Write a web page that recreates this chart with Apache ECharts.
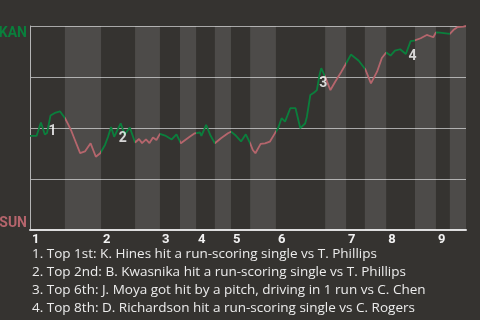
<!DOCTYPE html>
<html>
<head>
<meta charset="utf-8">
<script src="https://cdn.jsdelivr.net/npm/echarts@6/dist/echarts.min.js"></script>
<style>
html,body{margin:0;padding:0;background:#353330;}
#chart{width:480px;height:320px;}
</style>
</head>
<body>
<div id="chart"></div>
<script>
// Half-inning boundaries in play-index units (top, bottom alternating)
const halfInningBounds = [0, 8.0, 16.3, 24.1, 29.8, 34.4, 38.1, 42.4, 46.1, 50.5, 56.4, 67.7, 72.5, 76.8, 81.7, 88.3, 93.1, 96.3, 100];
const inningLabels = ['1','2','3','4','5','6','7','8','9'];
const teamLabels = { top: 'KAN', bottom: 'SUN' };

// Play index and KAN win probability (%)
const playIndex = [0,1.5,2.5,3.4,3.9,4.7,5.7,6.9,7.1,8.0,8.7,9.4,10.3,11.5,12.6,13.9,15.1,16.1,17.2,17.9,18.6,19.3,20.8,21.7,22.9,24.1,25.0,25.7,26.6,27.4,28.2,29.0,29.8,31.0,32.5,33.6,34.6,35.6,36.7,37.8,39.0,39.3,40.4,41.4,42.4,43.8,45.4,46.1,47.2,48.4,49.5,50.5,51.1,51.7,52.9,53.9,55.0,56.2,56.9,57.7,58.5,59.7,60.9,62.0,63.1,63.5,64.3,65.1,65.8,66.4,66.8,67.7,68.9,70.0,71.2,72.3,73.6,75.4,76.9,78.2,79.6,80.7,81.7,82.7,83.7,84.9,85.3,86.2,87.3,88.1,89.6,91.0,91.7,92.5,93.1,94.0,96.3,97.1,98.0,99.4,100];
const winProb   = [46.1,46.1,52.7,46.8,47.5,56.1,57.4,58.1,58.8,54.9,52.0,49.0,44.1,37.7,38.5,42.5,35.9,37.6,41.7,45.7,50.5,45.7,52.3,46.8,50.2,42.9,44.6,42.6,44.4,42.6,45.3,44.1,47.1,46.3,44.4,46.9,42.5,44.1,45.8,47.4,47.8,46.1,51.5,46.3,42.5,45.0,47.4,48.2,46.3,43.4,46.9,42.5,39.2,37.6,42.2,42.5,43.3,47.5,49.9,54.8,53.1,59.7,59.7,49.9,52.2,55.4,66.2,67.3,68.6,76.0,79.3,75.1,68.6,72.7,76.8,80.9,86.0,83.0,78.8,71.9,77.6,84.3,87.0,85.5,87.9,88.6,89.1,86.3,92.6,92.8,94.0,95.6,95.1,94.5,96.9,96.8,96.1,98.0,99.4,99.7,100];

// Scoring plays
const scoreLabels = ['1','2','3','4'];
const scoreX = [4.7, 20.8, 66.8, 87.3];
const scoreY = [56.1, 52.3, 79.3, 92.6];
const notes = [
  '1. Top 1st: K. Hines hit a run-scoring single vs T. Phillips',
  '2. Top 2nd: B. Kwasnika hit a run-scoring single vs T. Phillips',
  '3. Top 6th: J. Moya got hit by a pitch, driving in 1 run vs C. Chen',
  '4. Top 8th: D. Richardson hit a run-scoring single vs C. Rogers'
];

const GREEN = '#0a7f3c';
const RED = '#b5656c';
const FONT = 'Roboto, "Noto Sans", sans-serif';
const TEXT_FONT = '"Open Sans", "Noto Sans", sans-serif';

const pieces = [];
for (let i = 0; i < halfInningBounds.length - 1; i++) {
  const p = { gte: halfInningBounds[i], color: i % 2 === 0 ? GREEN : RED };
  if (i === halfInningBounds.length - 2) p.lte = halfInningBounds[i + 1]; else p.lt = halfInningBounds[i + 1];
  pieces.push(p);
}
const bands = [];
for (let i = 1; i < halfInningBounds.length - 1; i += 2) {
  bands.push([{ xAxis: halfInningBounds[i] }, { xAxis: halfInningBounds[i + 1] }]);
}
const inningStarts = halfInningBounds.filter((v, i) => i % 2 === 0 && i < halfInningBounds.length - 1);

const chart = echarts.init(document.getElementById('chart'));
chart.setOption({
  backgroundColor: '#353330',
  animation: false,
  title: {
    text: notes.join('\n'),
    left: 32, top: 245, padding: 0,
    textStyle: { color: '#ececec', fontSize: 13.5, fontWeight: 'normal', lineHeight: 18, fontFamily: TEXT_FONT }
  },
  grid: { left: 30, right: 14, top: 26, bottom: 90, containLabel: false, outerBoundsMode: 'none' },
  xAxis: {
    type: 'value', min: 0, max: 100,
    axisLine: { show: true, lineStyle: { color: '#dddddd', width: 2 } },
    axisTick: { show: false },
    splitLine: { show: false },
    axisLabel: {
      customValues: inningStarts,
      formatter: (v) => inningLabels[inningStarts.indexOf(v)] || '',
      align: 'left', color: '#f2f2f2', fontWeight: 'bold', fontSize: 13, margin: 3,
      fontFamily: FONT, padding: [0, 0, 0, 2]
    }
  },
  yAxis: {
    type: 'value', min: 0, max: 100, interval: 25,
    axisLine: { show: true, lineStyle: { color: '#b5b5b5', width: 1 } },
    axisTick: { show: false },
    splitLine: { show: true, lineStyle: { color: '#a8a8a8', width: 1 } },
    axisLabel: {
      customValues: [0, 100],
      formatter: (v) => v === 100 ? '{k|' + teamLabels.top + '}' : '{s|' + teamLabels.bottom + '}',
      margin: 3,
      verticalAlignMaxLabel: 'top',
      verticalAlignMinLabel: 'bottom',
      rich: {
        k: { color: GREEN, fontWeight: 'bold', fontSize: 14, fontFamily: FONT },
        s: { color: RED, fontWeight: 'bold', fontSize: 14, fontFamily: FONT }
      }
    }
  },
  visualMap: {
    show: false, type: 'piecewise', dimension: 0, seriesIndex: 0, pieces: pieces
  },
  series: [
    {
      type: 'line',
      data: playIndex.map((x, i) => [x, winProb[i]]),
      showSymbol: false,
      lineStyle: { width: 1.8 },
      z: 3
    },
    {
      type: 'scatter',
      data: scoreX.map((x, i) => [x, scoreY[i]]),
      symbolSize: 1,
      itemStyle: { color: 'rgba(0,0,0,0)' },
      label: {
        show: true, position: 'bottom', distance: 8, offset: [2, 0],
        formatter: (p) => scoreLabels[p.dataIndex],
        color: '#ffffff', fontWeight: 'bold', fontSize: 14, fontFamily: FONT
      },
      markArea: {
        silent: true,
        itemStyle: { color: 'rgba(255,255,255,0.12)' },
        data: bands
      },
      z: 4
    }
  ]
});
</script>
</body>
</html>
